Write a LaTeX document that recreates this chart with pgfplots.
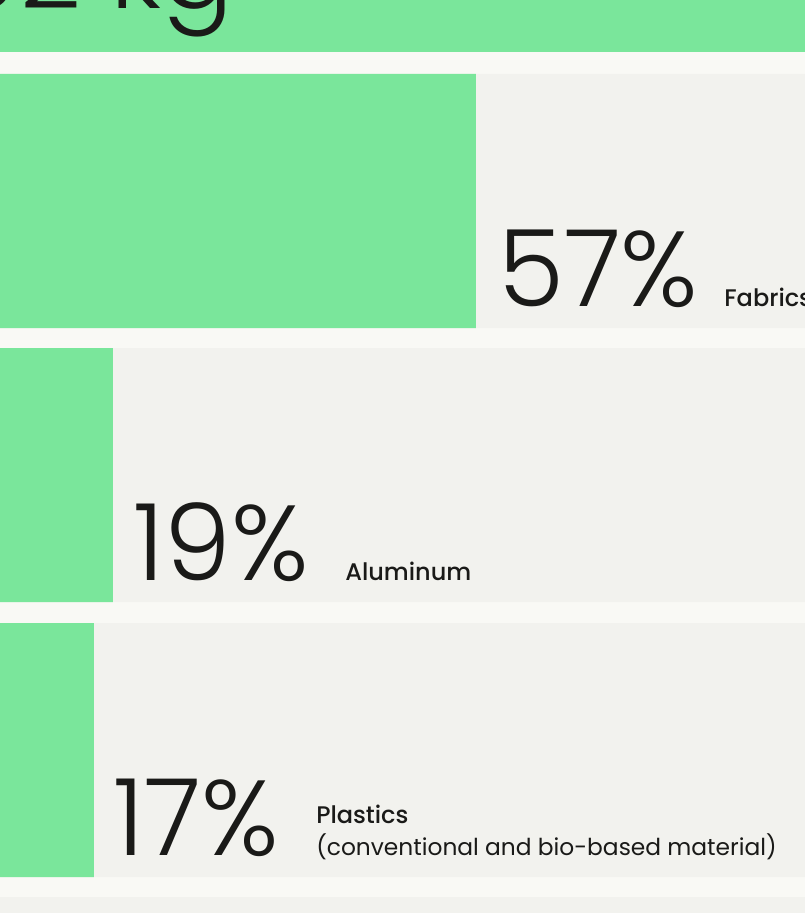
\documentclass[border=0pt]{standalone}
\usepackage{pgfplots}
\pgfplotsset{compat=1.18}
\usepackage{fontspec}
\setmainfont{Poppins}
\newfontfamily\numfont{Poppins Light}
\newfontfamily\labfont{Poppins Medium}
\definecolor{barg}{HTML}{7AE69B}
\definecolor{rowg}{HTML}{F2F2EE}
\definecolor{strip}{HTML}{F9F9F5}
\definecolor{ink}{HTML}{1A1A18}
\begin{document}
\begin{tikzpicture}
\fill[strip] (0,0) rectangle (603.75pt,684.75pt);
\begin{axis}[
  at={(0,0)}, anchor=south west,
  scale only axis, width=603.75pt, height=684.75pt,
  xmin=7.17, xmax=91.47, ymin=0, ymax=913, y dir=reverse,
  axis lines=none, ticks=none,
  clip=true,
]
% grey row backgrounds (100 %)
\addplot[xbar, bar shift=0pt, bar width=254, fill=rowg, draw=none]
  coordinates {(100,201) (100,475) (100,750) (100,1024)};
% green bars
\addplot[xbar, bar shift=0pt, bar width=254, fill=barg, draw=none]
  coordinates {(100,-75) (57,201) (19,475) (17,750)};

\def\numf{\numfont\fontsize{80}{80}\selectfont}
\def\labf{\labfont\fontsize{18}{24}\selectfont}
\def\labr{\fontsize{17.5}{24}\selectfont}

\node[anchor=base west, inner sep=0pt, text=ink, font=\numf] at (axis cs:2.3,9) {92 kg};

\node[anchor=base west, inner sep=0pt, text=ink, font=\numf] at (axis cs:59.32,306) {57\%};
\node[anchor=base west, inner sep=0pt, text=ink, font=\labf] at (axis cs:83.0,306) {Fabrics};

\node[anchor=base west, inner sep=0pt, text=ink, font=\numf] at (axis cs:21.1,580) {19\%};
\node[anchor=base west, inner sep=0pt, text=ink, font=\labf] at (axis cs:43.3,580) {Aluminum};

\node[anchor=base west, inner sep=0pt, text=ink, font=\numf] at (axis cs:19.0,855) {17\%};
\node[anchor=base west, inner sep=0pt, text=ink, align=left, font=\labr] at (axis cs:40.26,855)
  {\begin{tabular}[b]{@{}l@{}}{\labf Plastics}\\{\labr (conventional and bio-based material)}\end{tabular}};
\end{axis}
\pgfresetboundingbox
\useasboundingbox (0,0) rectangle (603.75pt,684.75pt);
\end{tikzpicture}
\end{document}
